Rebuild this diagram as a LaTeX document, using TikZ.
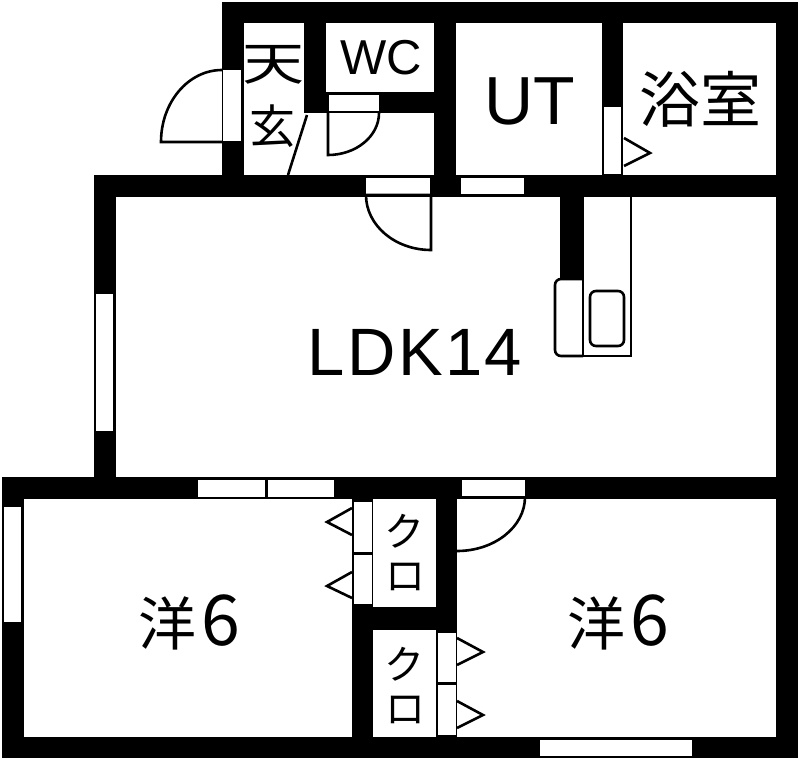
\documentclass[tikz,border=0pt]{standalone}
\usepackage{fontspec}
\setmainfont{Liberation Sans}
\newfontfamily\jpfont{Noto Sans CJK JP}
\newcommand{\digitsix}{\hspace{5pt}{\fontsize{70}{70}\selectfont 6}}

\tikzset{
	wall/.style={fill=black,draw=none},
	panel/.style={fill=white,draw=none},
	thinline/.style={line width=2.6pt,draw=black},
	label/.style={inner sep=0pt,outer sep=0pt,text=black},
}

\begin{document}
\begin{tikzpicture}[x=1pt,y=-1pt]
\useasboundingbox[fill=white] (0,0) rectangle (800,760);

% walls
\fill[wall] (222,2) rectangle (798,23);
\fill[wall] (222,2) rectangle (244,197);
\fill[wall] (304,23) rectangle (326,113);
\fill[wall] (326,92) rectangle (434,113);
\fill[wall] (434,23) rectangle (456,197);
\fill[wall] (602,23) rectangle (623,175);
\fill[wall] (94,175) rectangle (798,197);
\fill[wall] (94,175) rectangle (116,499);
\fill[wall] (776,2) rectangle (798,758);
\fill[wall] (560,197) rectangle (583,279);
\fill[wall] (2,477) rectangle (798,499);
\fill[wall] (2,477) rectangle (24,758);
\fill[wall] (2,737) rectangle (798,758);
\fill[wall] (352,499) rectangle (373,758);
\fill[wall] (436,499) rectangle (457,737);
\fill[wall] (352,607) rectangle (457,630);

% windows and door openings
\fill[panel] (223,70) rectangle (241,141);
\fill[panel] (329,95) rectangle (379,111);
\fill[panel] (366,178) rectangle (430,194);
\fill[panel] (461,178) rectangle (524,194);
\fill[panel] (604,107) rectangle (621,174);
\fill[panel] (96,294) rectangle (113,431);
\fill[panel] (198,480) rectangle (265,497);
\fill[panel] (268,480) rectangle (334,497);
\fill[panel] (4,507) rectangle (21,622);
\fill[panel] (462,480) rectangle (525,496);
\fill[panel] (354,502) rectangle (372,552);
\fill[panel] (354,555) rectangle (372,604);
\fill[panel] (438,633) rectangle (456,682);
\fill[panel] (438,685) rectangle (456,735);
\fill[panel] (540,740) rectangle (692,756);

% door swings
\draw[thinline] (222,70) arc[start angle=270,end angle=180,x radius=61,y radius=72] -- (222,142);
\draw[thinline] (379,113) arc[start angle=0,end angle=90,x radius=51,y radius=42] -- (328,113);
\draw[thinline] (366,195) arc[start angle=180,end angle=90,x radius=65,y radius=55] -- (431,195) -- cycle;
\draw[thinline] (525,497) arc[start angle=0,end angle=90,x radius=68,y radius=54];
\draw[thinline] (461,497) -- (525,497);
\draw[thinline] (307,115) -- (288,175);

% folding door marks
\foreach \y/\m/\b in {508/522/535,572/586/598}
	\draw[thinline] (352,\y) -- (327,\m) -- (352,\b);
\foreach \y/\m/\b in {638/652/665,701/715/728}
	\draw[thinline] (457,\y) -- (483,\m) -- (457,\b);
\draw[thinline] (624,138) -- (650,153) -- (624,166);

% kitchen
\draw[thinline] (583,197) -- (583,356);
\draw[thinline] (631,197) -- (631,356) -- (583,356);
\draw[thinline,rounded corners=6pt] (583,279) -- (555,279) -- (555,356) -- (583,356);
\draw[thinline,rounded corners=6pt] (590,291) rectangle (624,346);

% room names
\node[label] (ldk) at (415,352){\addfontfeature{LetterSpace=3.5}\fontsize{67}{67}\selectfont LDK14};
\node[label] (wc) at (381,58){\fontsize{49}{49}\selectfont WC};
\node[label] (ut) at (530,101){\fontsize{68}{68}\selectfont UT};
\node[label] (bath) at (700,99){\jpfont\fontsize{61}{61}\selectfont 浴室};
\node[label,xscale=1.35,transform shape] (gentenA) at (274,65){\jpfont\fontsize{46}{46}\selectfont 天};
\node[label] (gentenB) at (272,126){\jpfont\fontsize{46}{46}\selectfont 玄};
\node[label] (roomA) at (189,622){\jpfont\fontsize{58}{58}\selectfont 洋\digitsix};
\node[label] (roomB) at (618,622){\jpfont\fontsize{58}{58}\selectfont 洋\digitsix};
\node[label] (closetA) at (404,531){\jpfont\fontsize{40}{40}\selectfont ク};
\node[label] (closetB) at (405,577){\jpfont\fontsize{40}{40}\selectfont ロ};
\node[label] (closetC) at (404,664){\jpfont\fontsize{40}{40}\selectfont ク};
\node[label] (closetD) at (405,710){\jpfont\fontsize{40}{40}\selectfont ロ};
\end{tikzpicture}
\end{document}
